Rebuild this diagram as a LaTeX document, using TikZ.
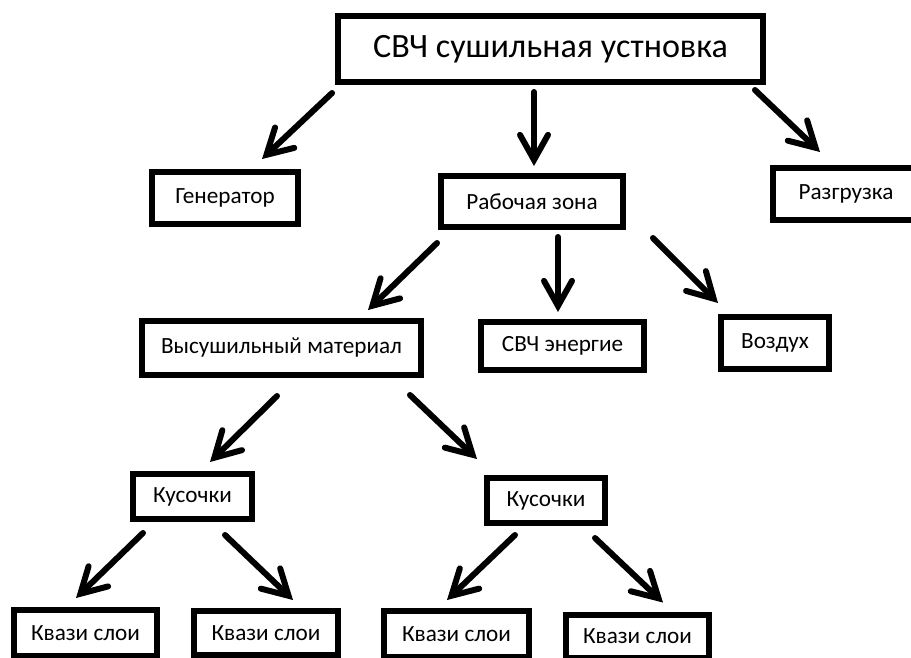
\documentclass[tikz,border=0pt]{standalone}
\usepackage{fontspec}
\setmainfont{Carlito}
\usepackage{tikz}
\usetikzlibrary{arrows.meta,positioning,calc}
\tikzset{
  rootbox/.style={rectangle, draw=black, line width=0.12cm, fill=white, align=center, minimum width=8.5cm, minimum height=1.32cm, font=\fontsize{19.4}{23}\selectfont},
  partbox/.style={rectangle, draw=black, line width=0.12cm, fill=white, align=center, inner sep=0pt, font=\fontsize{13.2}{16}\selectfont},
  treearrow/.style={-{Straight Barb[length=0.5cm, width=0.56cm, line cap=round]}, line width=0.12cm, line cap=round}
}

\begin{document}
\begin{tikzpicture}[x=0.02cm, y=-0.02cm]
\useasboundingbox[fill=white] (0,0) rectangle (911,657);
\node[rootbox] (root) at (550.5,49) {СВЧ сушильная устновка};
\node[partbox, minimum width=2.92cm, minimum height=1.04cm] (gen) at (225,198) {Генератор};
\node[partbox, minimum width=3.64cm, minimum height=1.02cm] (work) at (532,201.5) {Рабочая зона};
\node[partbox, minimum width=2.92cm, minimum height=1.04cm] (unload) at (846,194) {Разгрузка};
\node[partbox, minimum width=5.58cm, minimum height=1.08cm] (mat) at (281.5,348) {Высушильный материал};
\node[partbox, minimum width=3.26cm, minimum height=0.96cm] (mw) at (562.5,346) {СВЧ энергие};
\node[partbox, minimum width=2.16cm, minimum height=1.04cm] (air) at (775,343) {Воздух};
\node[partbox, minimum width=2.38cm, minimum height=0.90cm] (pcsl) at (192.5,496.5) {Кусочки};
\node[partbox, minimum width=2.36cm, minimum height=0.90cm] (pcsr) at (546,500.5) {Кусочки};
\node[partbox, minimum width=2.86cm, minimum height=0.92cm] (layera) at (85.5,633) {Квази слои};
\node[partbox, minimum width=2.88cm, minimum height=0.88cm] (layerb) at (266,633) {Квази слои};
\node[partbox, minimum width=2.90cm, minimum height=0.92cm] (layerc) at (456.5,634) {Квази слои};
\node[partbox, minimum width=2.86cm, minimum height=0.86cm] (layerd) at (637.5,636) {Квази слои};
\draw[treearrow] ([shift={(-3,8)}]root.south west) -- ([shift={(37,-10)}]gen.north);
\draw[treearrow] ([shift={(-16.5,7)}]root.south) -- ([shift={(2,-7)}]work.north);
\draw[treearrow] ([shift={(-11,5)}]root.south east) -- ([shift={(-26,-13)}]unload.north);
\draw[treearrow] ([shift={(-1,13)}]work.south west) -- ([shift={(86.5,-8)}]mat.north);
\draw[treearrow] ([shift={(26,7)}]work.south) -- ([shift={(-4.5,-7)}]mw.north);
\draw[treearrow] ([shift={(27,8)}]work.south east) -- ([shift={(-57,-11)}]air.north);
\draw[treearrow] ([shift={(-4.5,18)}]mat.south) -- ([shift={(17.5,-9)}]pcsl.north);
\draw[treearrow] ([shift={(-14,17)}]mat.south east) -- ([shift={(-69,-16)}]pcsr.north);
\draw[treearrow] ([shift={(-49.5,11)}]pcsl.south) -- ([shift={(-9.5,-9)}]layera.north);
\draw[treearrow] ([shift={(32.5,13)}]pcsl.south) -- ([shift={(27,-8)}]layerb.north);
\draw[treearrow] ([shift={(-31,9)}]pcsr.south) -- ([shift={(-9.5,-8)}]layerc.north);
\draw[treearrow] ([shift={(49,12)}]pcsr.south) -- ([shift={(25.5,-9)}]layerd.north);
\end{tikzpicture}
\end{document}
